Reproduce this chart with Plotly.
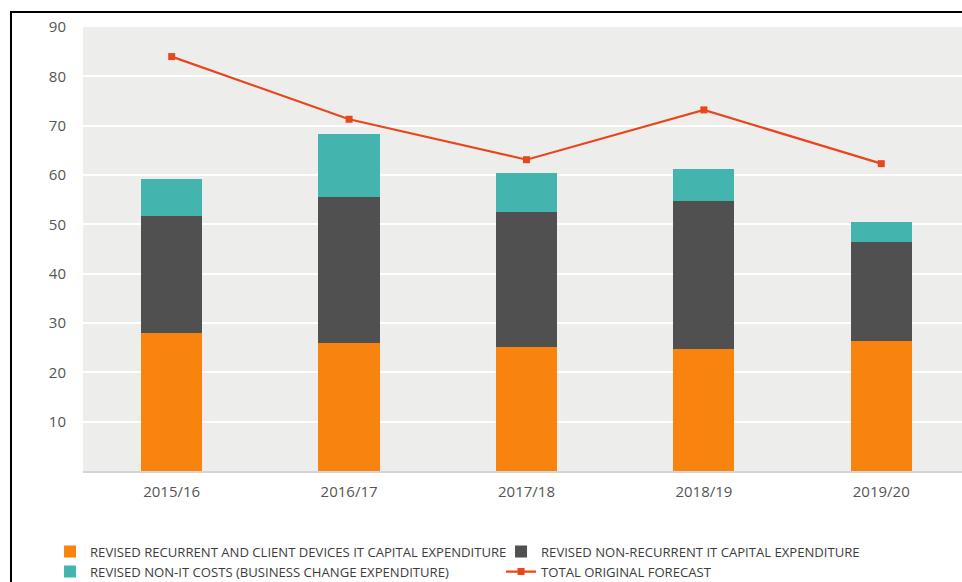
import plotly.graph_objects as go

# Financial years on the category axis
years = ["2015/16", "2016/17", "2017/18", "2018/19", "2019/20"]

# Stacked components (£m)
recurrent_client = [28.0, 26.0, 25.1, 24.7, 26.4]
non_recurrent_it = [23.7, 29.6, 27.4, 30.1, 20.1]
non_it_costs = [7.5, 12.8, 8.0, 6.5, 3.9]

# Original forecast totals (£m)
original_forecast = [84.0, 71.3, 63.1, 73.2, 62.3]

y_ticks = [10, 20, 30, 40, 50, 60, 70, 80, 90]

ORANGE = "#F8840F"
DARK = "#505050"
TEAL = "#43B5AE"
RED = "#E8471E"
TEXT = "#555555"

fig = go.Figure()
fig.add_trace(go.Bar(
    x=years, y=recurrent_client, name="REVISED RECURRENT AND CLIENT DEVICES IT CAPITAL EXPENDITURE",
    marker=dict(color=ORANGE, line=dict(width=0)),
))
fig.add_trace(go.Bar(
    x=years, y=non_recurrent_it, name="REVISED NON-RECURRENT IT CAPITAL EXPENDITURE",
    marker=dict(color=DARK, line=dict(width=0)),
))
fig.add_trace(go.Bar(
    x=years, y=non_it_costs, name="REVISED NON-IT COSTS (BUSINESS CHANGE EXPENDITURE)",
    marker=dict(color=TEAL, line=dict(width=0)),
))
fig.add_trace(go.Scatter(
    x=years, y=original_forecast, name="TOTAL ORIGINAL FORECAST",
    mode="lines+markers",
    line=dict(color=RED, width=2.2),
    marker=dict(symbol="square", size=7, color=RED),
))

fig.update_layout(
    width=962, height=582,
    margin=dict(l=83, r=0, t=27, b=111, autoexpand=False),
    barmode="stack",
    bargap=0.655,
    plot_bgcolor="#EDEDEB",
    paper_bgcolor="white",
    font=dict(family="Open Sans, sans-serif", color=TEXT),
    showlegend=True,
    legend=dict(
        orientation="h",
        traceorder="normal",
        x=-0.0375, xanchor="left",
        y=-0.1475, yanchor="top",
        font=dict(size=13.1, color="#3C3C3C"),
        itemwidth=30,
        entrywidth=406,
        tracegroupgap=0,
        bgcolor="rgba(0,0,0,0)",
    ),
    shapes=[dict(
        type="rect", xref="paper", yref="paper",
        x0=-0.0819, x1=1.2, y0=-0.4, y1=1.0338,
        line=dict(color="black", width=2),
        fillcolor="rgba(0,0,0,0)",
        layer="above",
    )],
)

fig.update_xaxes(
    range=[-0.5, 4.455],
    showgrid=False,
    showline=True, linecolor="#D4D4D4", linewidth=1.5,
    ticks="",
    tickfont=dict(size=15, color=TEXT),
    ticklabelstandoff=6,
)
fig.update_yaxes(
    range=[0, 90],
    tickvals=y_ticks,
    showgrid=True, gridcolor="white", gridwidth=2,
    zeroline=False,
    showline=False,
    ticks="",
    tickfont=dict(size=15, color=TEXT),
    ticklabelstandoff=16,
)

fig.write_html("out.html")
